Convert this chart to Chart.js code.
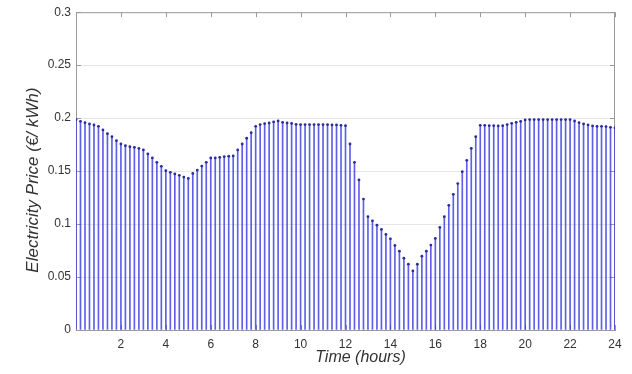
<!DOCTYPE html>
<html>
<head>
<meta charset="utf-8">
<script src="https://cdn.jsdelivr.net/npm/chart.js@4.4.1/dist/chart.umd.min.js"></script>
<style>
  html, body { margin: 0; padding: 0; background: #fff; }
  #priceChart { display: block; }
</style>
</head>
<body>
<canvas id="priceChart" width="632" height="374"></canvas>
<script>
// electricity price, one sample every 12 minutes from 0h to 24h
const stepHours = 0.2;
const prices = [
  0.1986, 0.1970, 0.1957, 0.1945, 0.1936, 0.1923, 0.1889, 0.1853, 0.1825, 0.1787,
  0.1756, 0.1740, 0.1730, 0.1724, 0.1715, 0.1700, 0.1662, 0.1624, 0.1583, 0.1545,
  0.1504, 0.1488, 0.1473, 0.1460, 0.1444, 0.1431, 0.1478, 0.1510, 0.1547, 0.1583,
  0.1624, 0.1624, 0.1630, 0.1636, 0.1640, 0.1643, 0.1700, 0.1756, 0.1810, 0.1863,
  0.1923, 0.1939, 0.1948, 0.1955, 0.1964, 0.1973, 0.1960, 0.1955, 0.1950, 0.1942,
  0.1939, 0.1939, 0.1939, 0.1939, 0.1939, 0.1939, 0.1939, 0.1936, 0.1936, 0.1932,
  0.1929, 0.1756, 0.1583, 0.1417, 0.1236, 0.1070, 0.1031, 0.0990, 0.0949, 0.0902,
  0.0861, 0.0798, 0.0744, 0.0678, 0.0621, 0.0558, 0.0621, 0.0697, 0.0744, 0.0802,
  0.0864, 0.0968, 0.1070, 0.1177, 0.1281, 0.1382, 0.1495, 0.1602, 0.1715, 0.1825,
  0.1932, 0.1932, 0.1929, 0.1929, 0.1926, 0.1929, 0.1939, 0.1951, 0.1960, 0.1970,
  0.1983, 0.1986, 0.1986, 0.1986, 0.1986, 0.1986, 0.1986, 0.1986, 0.1986, 0.1986,
  0.1986, 0.1973, 0.1957, 0.1945, 0.1936, 0.1926, 0.1923, 0.1923, 0.1920, 0.1913,
  0.1907
];
const hours = prices.map((p, i) => Math.round(i * stepHours * 10) / 10);

const hourTicks = [2, 4, 6, 8, 10, 12, 14, 16, 18, 20, 22, 24];
const priceTicks = [0, 0.05, 0.1, 0.15, 0.2, 0.25, 0.3];

const xTitle = "Time (hours)";
const yTitle = "Electricity Price (\u20AC/ kWh)";

const points = hours.map((h, i) => ({ x: h, y: prices[i] }));

const axisColor = "#9a9a9a";
const textColor = "#333333";
const fontFamily = "Arial, 'Liberation Sans', Helvetica, sans-serif";

// box around the axes with short inward tick marks, like a matlab figure
const axesFrame = {
  id: "axesFrame",
  beforeDatasetsDraw(chart) {
    const { ctx, chartArea: a, scales } = chart;
    ctx.save();
    ctx.strokeStyle = axisColor;
    ctx.lineWidth = 1;
    ctx.beginPath();
    ctx.moveTo(a.left, a.top + 0.5);
    ctx.lineTo(a.right, a.top + 0.5);
    ctx.moveTo(a.right - 0.5, a.top);
    ctx.lineTo(a.right - 0.5, a.bottom);
    hourTicks.forEach((h) => {
      const x = Math.round(scales.x.getPixelForValue(h)) + 0.5;
      ctx.moveTo(x, a.top);
      ctx.lineTo(x, a.top + 5);
      ctx.moveTo(x, a.bottom);
      ctx.lineTo(x, a.bottom - 5);
    });
    priceTicks.forEach((p) => {
      const y = Math.round(scales.y.getPixelForValue(p)) + 0.5;
      ctx.moveTo(a.left, y);
      ctx.lineTo(a.left + 5, y);
      ctx.moveTo(a.right, y);
      ctx.lineTo(a.right - 5, y);
    });
    ctx.stroke();
    ctx.restore();
  },
  afterDraw(chart) {
    const { ctx, chartArea: a } = chart;
    ctx.save();
    ctx.fillStyle = textColor;
    ctx.textAlign = "center";
    ctx.textBaseline = "middle";
    ctx.font = "italic 16px " + fontFamily;
    ctx.fillText(xTitle, (a.left + a.right) / 2 + 15, 358);
    ctx.translate(33, (a.top + a.bottom) / 2 + 9);
    ctx.rotate(-Math.PI / 2);
    ctx.font = "italic 17px " + fontFamily;
    ctx.fillText(yTitle, 0, 0);
    ctx.restore();
  }
};

new Chart(document.getElementById("priceChart"), {
  type: "bar",
  data: {
    datasets: [
      {
        type: "line",
        data: points,
        showLine: false,
        pointRadius: 1.4,
        pointBorderWidth: 0,
        pointBackgroundColor: "#2b2b9c",
        order: 0
      },
      {
        type: "bar",
        data: points,
        backgroundColor: "rgba(50, 50, 225, 0.78)",
        borderWidth: 0,
        barThickness: 1,
        order: 1
      }
    ]
  },
  options: {
    responsive: false,
    devicePixelRatio: 1,
    animation: false,
    layout: { padding: { left: 0, top: 12, right: 17, bottom: 0 } },
    plugins: { legend: { display: false }, tooltip: { enabled: false } },
    scales: {
      x: {
        type: "linear",
        min: 0,
        max: 24,
        offset: false,
        afterFit: (s) => { s.height = 44; },
        afterBuildTicks: (s) => { s.ticks = hourTicks.map((v) => ({ value: v })); },
        grid: { display: false, drawTicks: false },
        border: { display: true, color: axisColor },
        ticks: {
          autoSkip: false,
          maxRotation: 0,
          padding: 7,
          color: textColor,
          font: { family: fontFamily, size: 12 },
          callback: (v) => String(v)
        }
      },
      y: {
        min: 0,
        max: 0.3,
        afterFit: (s) => { s.width = 76; },
        afterBuildTicks: (s) => { s.ticks = priceTicks.map((v) => ({ value: v })); },
        grid: { color: "#e6e6e6", drawTicks: false },
        border: { display: true, color: axisColor },
        ticks: {
          padding: 5,
          color: textColor,
          font: { family: fontFamily, size: 12 },
          callback: (v) => String(+v.toFixed(2))
        }
      }
    }
  },
  plugins: [axesFrame]
});
</script>
</body>
</html>
